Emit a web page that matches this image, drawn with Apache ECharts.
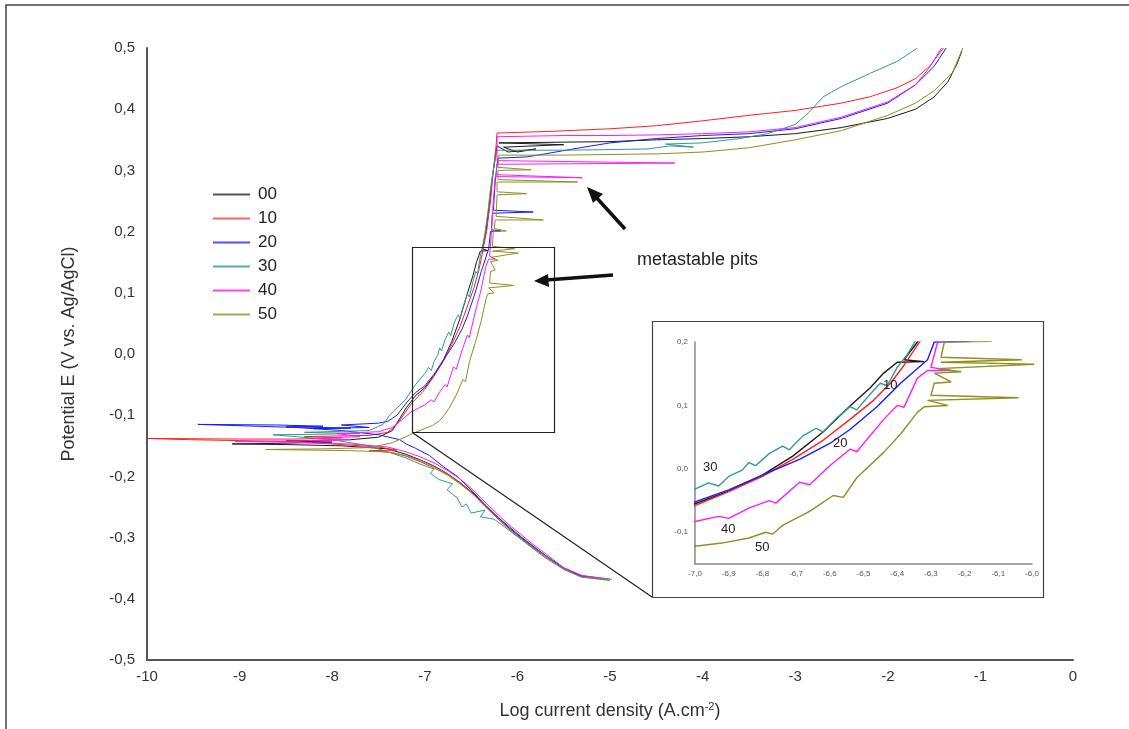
<!DOCTYPE html>
<html>
<head>
<meta charset="utf-8">
<script src="https://cdn.jsdelivr.net/npm/echarts@6/dist/echarts.min.js"></script>
<style>html,body{margin:0;padding:0;background:#fff}#c{width:1129px;height:729px}</style>
</head>
<body>
<div id="c"></div>
<script>
// ---- data: [log current density, potential E] ----
const seriesNames = ['00', '10', '20', '30', '40', '50'];
const xTicks = [-10, -9, -8, -7, -6, -5, -4, -3, -2, -1, 0];
const yTicks = [-0.5, -0.4, -0.3, -0.2, -0.1, 0, 0.1, 0.2, 0.3, 0.4, 0.5];

const s00 = [[-5.05,-0.368],[-5.32,-0.362],[-5.5,-0.350],[-5.68,-0.331],[-5.85,-0.313],[-5.97,-0.299],[-6.1,-0.283],[-6.22,-0.266],[-6.35,-0.247],[-6.48,-0.227],[-6.62,-0.210],[-6.76,-0.195],[-6.9,-0.183],[-7.05,-0.173],[-7.2,-0.164],[-7.4,-0.155],
[-7.9,-0.150],[-8.5,-0.148],[-9.08,-0.147],[-8.6,-0.146],[-8.0,-0.144],[-8.5,-0.142],[-7.8,-0.140],[-7.5,-0.136],
[-7.35,-0.125],[-7.2,-0.088],[-7.1,-0.068],[-7.0,-0.055],[-6.9,-0.035],[-6.8,-0.010],[-6.71,0.020],[-6.62,0.058],[-6.54,0.099],[-6.48,0.128],[-6.44,0.151],[-6.40,0.168],[-6.32,0.169],[-6.38,0.172],[-6.34,0.200],[-6.30,0.25],[-6.27,0.29],[-6.24,0.32],[-6.22,0.34],
[-6.1,0.330],[-5.8,0.335],[-6.0,0.330],[-6.15,0.338],[-5.5,0.342],[-6.2,0.345],
[-5.0,0.347],[-4.5,0.350],[-4.0,0.352],[-3.5,0.355],[-3.0,0.360],[-2.5,0.370],[-2.0,0.385],[-1.7,0.400],[-1.5,0.420],[-1.35,0.445],[-1.25,0.475],[-1.2,0.495]];

const s10 = [[-5.05,-0.368],[-5.32,-0.363],[-5.5,-0.351],[-5.68,-0.333],[-5.85,-0.315],[-5.97,-0.301],[-6.1,-0.285],[-6.22,-0.268],[-6.35,-0.249],[-6.48,-0.229],[-6.62,-0.212],[-6.76,-0.197],[-6.9,-0.186],[-7.05,-0.176],[-7.2,-0.167],[-7.35,-0.161],[-7.6,-0.158],[-7.3,-0.157],
[-7.5,-0.152],[-8.0,-0.147],[-8.5,-0.143],[-9.54,-0.140],[-10.0,-0.138],[-9.0,-0.139],[-8.4,-0.139],[-7.9,-0.137],[-8.3,-0.135],[-7.6,-0.133],[-7.4,-0.128],
[-7.3,-0.115],[-7.15,-0.082],[-7.0,-0.058],[-6.9,-0.036],[-6.8,-0.012],[-6.71,0.015],[-6.62,0.045],[-6.54,0.078],[-6.47,0.108],[-6.42,0.135],[-6.38,0.163],[-6.33,0.203],[-6.29,0.25],[-6.26,0.30],[-6.23,0.34],[-6.22,0.361],
[-5.6,0.364],[-5.0,0.368],[-4.5,0.373],[-4.0,0.381],[-3.5,0.390],[-3.0,0.398],[-2.5,0.410],[-2.2,0.420],[-1.9,0.435],[-1.7,0.450],[-1.55,0.470],[-1.4,0.500]];

const s20 = [[-5.02,-0.368],[-5.3,-0.363],[-5.5,-0.350],[-5.7,-0.329],[-5.95,-0.300],[-6.2,-0.268],[-6.35,-0.246],[-6.5,-0.222],[-6.65,-0.200],[-6.8,-0.184],[-6.95,-0.166],[-7.1,-0.154],[-7.2,-0.147],[-7.27,-0.140],
[-7.5,-0.132],[-7.9,-0.125],[-8.4,-0.120],[-9.45,-0.115],[-8.6,-0.116],[-8.1,-0.118],[-8.5,-0.119],[-7.8,-0.121],[-8.2,-0.122],[-7.6,-0.120],[-7.9,-0.116],[-7.5,-0.113],[-7.4,-0.110],
[-7.3,-0.100],[-7.2,-0.080],[-7.1,-0.063],[-7.0,-0.052],[-6.9,-0.033],[-6.8,-0.010],[-6.69,0.015],[-6.6,0.040],[-6.54,0.062],[-6.46,0.098],[-6.39,0.135],[-6.31,0.172],[-6.29,0.200],[-6.18,0.201],[-6.28,0.203],[-6.27,0.230],[-5.83,0.232],[-6.26,0.235],[-6.24,0.280],[-6.22,0.310],[-6.21,0.320],
[-5.9,0.322],[-5.7,0.327],[-5.4,0.335],[-5.0,0.345],[-4.5,0.352],[-4.0,0.357],[-3.5,0.360],[-3.0,0.368],[-2.5,0.385],[-2.0,0.410],[-1.7,0.440],[-1.5,0.470],[-1.37,0.500]];

const s30 = [[-5.0,-0.370],[-5.3,-0.365],[-5.5,-0.352],[-5.7,-0.333],[-5.9,-0.310],[-6.1,-0.287],[-6.25,-0.270],[-6.4,-0.266],[-6.35,-0.255],[-6.5,-0.260],[-6.55,-0.245],[-6.6,-0.250],[-6.65,-0.235],[-6.76,-0.222],[-6.7,-0.212],[-6.85,-0.205],[-6.94,-0.195],[-6.9,-0.188],[-7.05,-0.180],[-7.2,-0.170],[-7.4,-0.160],
[-7.6,-0.150],[-8.0,-0.140],[-8.64,-0.132],[-8.1,-0.131],[-7.7,-0.130],[-8.3,-0.128],[-7.6,-0.125],[-7.45,-0.115],
[-7.38,-0.100],[-7.3,-0.088],[-7.21,-0.075],[-7.1,-0.050],[-7.0,-0.032],[-6.96,-0.022],[-6.93,-0.027],[-6.90,-0.012],[-6.86,-0.002],[-6.84,0.010],[-6.82,0.005],[-6.78,0.024],[-6.74,0.036],[-6.72,0.030],[-6.68,0.052],[-6.64,0.064],[-6.62,0.058],[-6.58,0.080],[-6.54,0.098],[-6.52,0.093],[-6.48,0.118],[-6.45,0.135],[-6.43,0.131],[-6.40,0.160],[-6.37,0.180],[-6.35,0.198],[-6.32,0.230],[-6.29,0.270],[-6.26,0.300],[-6.23,0.325],[-6.22,0.333],
[-5.5,0.333],[-5.0,0.334],[-4.6,0.335],[-4.35,0.340],[-4.1,0.338],[-4.4,0.343],[-4.0,0.345],[-3.6,0.352],[-3.3,0.360],[-3.0,0.375],[-2.85,0.395],[-2.7,0.420],[-2.5,0.437],[-2.2,0.458],[-1.9,0.478],[-1.68,0.500]];

const s40 = [[-4.98,-0.368],[-5.3,-0.362],[-5.5,-0.349],[-5.68,-0.328],[-5.85,-0.309],[-5.97,-0.294],[-6.1,-0.278],[-6.22,-0.261],[-6.35,-0.242],[-6.48,-0.222],[-6.62,-0.204],[-6.76,-0.190],[-6.9,-0.178],[-7.05,-0.168],[-7.2,-0.160],[-7.4,-0.152],
[-7.8,-0.147],[-8.5,-0.144],[-9.05,-0.143],[-8.4,-0.142],[-7.8,-0.140],[-8.2,-0.138],[-7.7,-0.135],[-7.95,-0.130],[-7.5,-0.127],[-7.35,-0.120],
[-7.25,-0.108],[-7.15,-0.095],[-7.0,-0.083],[-6.93,-0.075],[-6.9,-0.078],[-6.84,-0.062],[-6.78,-0.050],[-6.76,-0.054],[-6.69,-0.021],[-6.66,-0.025],[-6.60,0.005],[-6.54,0.031],[-6.52,0.027],[-6.44,0.078],[-6.40,0.100],[-6.38,0.097],[-6.34,0.143],[-6.31,0.155],[-6.24,0.155],[-6.30,0.160],[-6.28,0.200],[-6.26,0.250],[-6.24,0.290],[-5.30,0.288],[-6.23,0.293],[-6.22,0.310],[-4.30,0.312],[-6.22,0.316],[-6.22,0.355],
[-5.5,0.357],[-5.0,0.357],[-4.5,0.358],[-4.0,0.360],[-3.5,0.363],[-3.0,0.370],[-2.5,0.387],[-2.0,0.412],[-1.7,0.440],[-1.55,0.468],[-1.42,0.500]];

const s50 = [[-5.0,-0.368],[-5.32,-0.364],[-5.5,-0.351],[-5.68,-0.332],[-5.85,-0.314],[-5.97,-0.300],[-6.1,-0.284],[-6.22,-0.267],[-6.35,-0.248],[-6.48,-0.228],[-6.62,-0.211],[-6.76,-0.196],[-6.9,-0.184],[-7.05,-0.174],[-7.2,-0.166],[-7.4,-0.160],
[-7.8,-0.158],[-8.72,-0.156],[-8.1,-0.155],[-7.6,-0.153],[-7.35,-0.145],[-7.2,-0.135],[-7.1,-0.128],
[-7.0,-0.122],[-6.92,-0.117],[-6.84,-0.109],[-6.79,-0.100],[-6.77,-0.103],[-6.74,-0.089],[-6.66,-0.067],[-6.59,-0.042],[-6.56,-0.045],[-6.52,-0.014],[-6.44,0.026],[-6.39,0.055],[-6.34,0.089],[-6.32,0.098],[-6.25,0.100],[-6.31,0.108],[-6.04,0.112],[-6.30,0.116],[-6.29,0.135],[-6.24,0.137],[-6.29,0.151],[-6.21,0.153],[-6.28,0.158],[-5.99,0.165],[-6.27,0.168],[-6.03,0.172],[-6.27,0.176],[-6.26,0.200],[-6.12,0.201],[-6.25,0.205],[-6.24,0.219],[-5.72,0.219],[-6.23,0.225],[-6.22,0.260],[-5.9,0.262],[-6.22,0.265],[-6.22,0.281],[-5.35,0.281],[-6.21,0.285],[-6.21,0.300],[-5.85,0.301],[-6.21,0.305],[-6.20,0.325],
[-5.5,0.325],[-5.0,0.326],[-4.5,0.327],[-4.0,0.330],[-3.5,0.337],[-3.0,0.350],[-2.5,0.365],[-2.0,0.390],[-1.7,0.410],[-1.5,0.430],[-1.3,0.460],[-1.19,0.500]];

const allData = [s00, s10, s20, s30, s40, s50];
const colors = ['#1a1a1a', '#ff2020', '#1a1aff', '#2f9a94', '#ff1aff', '#8f8f22'];
const legendColors = ['#555555', '#ff6060', '#5050ff', '#5aaaa6', '#ff40ff', '#a6a65a'];

// ---- chart ----
const chart = echarts.init(document.getElementById('c'), null, {renderer: 'canvas'});
const fmt = v => (Math.abs(v) < 1e-9 ? 0 : v).toFixed(1).replace('.', ',');
const font = '"Liberation Sans", Arial, sans-serif';

const series = [];
allData.forEach((d, i) => {
  series.push({
    type: 'line', name: seriesNames[i], data: d, xAxisIndex: 0, yAxisIndex: 0,
    showSymbol: false, symbol: 'none', color: colors[i], lineStyle: {width: 1, color: colors[i]},
    clip: true, animation: false, silent: true
  });
});
allData.forEach((d, i) => {
  series.push({
    type: 'line', name: seriesNames[i] + ' ', data: d, xAxisIndex: 1, yAxisIndex: 1,
    showSymbol: false, symbol: 'none', color: colors[i], lineStyle: {width: 1.4, color: colors[i]},
    clip: true, animation: false, silent: true
  });
});

const option = {
  backgroundColor: '#fff',
  animation: false,
  textStyle: {fontFamily: font},
  legend: {
    data: seriesNames.map((n, i) => ({name: n, itemStyle: {color: legendColors[i]}})),
    orient: 'vertical', left: 208, top: 181, itemWidth: 37, itemHeight: 2, itemGap: 7,
    icon: 'rect', selectedMode: false,
    textStyle: {fontSize: 17, color: '#222', fontFamily: font, lineHeight: 16, padding: [0, 0, 0, 3]}
  },
  grid: [
    {left: 147, right: 56, top: 48, bottom: 69, containLabel: false},
    {left: 695, top: 342, width: 337, height: 222, containLabel: false}
  ],
  xAxis: [
    {type: 'value', min: xTicks[0], max: xTicks[xTicks.length - 1], interval: 1, gridIndex: 0,
     axisLine: {onZero: false, lineStyle: {color: '#555', width: 2}}, axisTick: {show: false}, splitLine: {show: false},
     axisLabel: {fontSize: 15, color: '#333', margin: 9, fontFamily: font},
     name: 'Log current density (A.cm{sup|-2})', nameLocation: 'middle', nameGap: 41,
     nameTextStyle: {fontSize: 18, color: '#333', fontFamily: font,
       rich: {sup: {fontSize: 11, color: '#333', verticalAlign: 'top', padding: [0, 0, 10, 0], fontFamily: font}}}},
    {type: 'value', min: -7, max: -6, interval: 0.1, gridIndex: 1,
     axisLine: {onZero: false, lineStyle: {color: '#888', width: 1.5}}, axisTick: {show: false}, splitLine: {show: false},
     axisLabel: {fontSize: 8, color: '#555', margin: 6, formatter: fmt, fontFamily: font}}
  ],
  yAxis: [
    {type: 'value', min: yTicks[0], max: yTicks[yTicks.length - 1], interval: 0.1, gridIndex: 0,
     axisLine: {onZero: false, lineStyle: {color: '#555', width: 2}}, axisTick: {show: false}, splitLine: {show: false},
     axisLabel: {fontSize: 15, color: '#333', margin: 12, formatter: fmt, fontFamily: font},
     name: 'Potential E (V vs. Ag/AgCl)', nameLocation: 'middle', nameGap: 69, nameRotate: 90,
     nameTextStyle: {fontSize: 18, color: '#333', fontFamily: font}},
    {type: 'value', min: -0.15, max: 0.2, interval: 0.05, gridIndex: 1,
     axisLine: {onZero: false, lineStyle: {color: '#888', width: 1.5}}, axisTick: {show: false}, splitLine: {show: false},
     axisLabel: {fontSize: 8, color: '#555', margin: 7, fontFamily: font,
       formatter: v => (Math.round(v * 20) % 2 === 0 ? fmt(v) : '')}}
  ],
  series: series,
  graphic: [
    {type: 'rect', shape: {x: 6, y: 5, width: 1200, height: 800}, style: {fill: 'none', stroke: '#444', lineWidth: 1.5}, z: 0, silent: true},
    {type: 'rect', shape: {x: 412.5, y: 247.5, width: 142, height: 185}, style: {fill: 'none', stroke: '#222', lineWidth: 1.2}, z: 10, silent: true},
    {type: 'line', shape: {x1: 413, y1: 433, x2: 652, y2: 597}, style: {stroke: '#222', lineWidth: 1.2}, z: 10, silent: true},
    {type: 'rect', shape: {x: 652.5, y: 321.5, width: 391, height: 276}, style: {fill: '#fff', stroke: '#444', lineWidth: 1.2}, z: -1, silent: true},
    {type: 'line', shape: {x1: 625, y1: 229, x2: 595, y2: 196}, style: {stroke: '#111', lineWidth: 3.5}, z: 10, silent: true},
    {type: 'polygon', shape: {points: [[587, 187], [603, 194], [593, 203]]}, style: {fill: '#111'}, z: 10, silent: true},
    {type: 'line', shape: {x1: 613, y1: 275, x2: 546, y2: 280}, style: {stroke: '#111', lineWidth: 3.5}, z: 10, silent: true},
    {type: 'polygon', shape: {points: [[534, 281], [548, 274], [549, 287]]}, style: {fill: '#111'}, z: 10, silent: true},
    {type: 'text', left: 637, top: 251, style: {text: 'metastable pits', fontSize: 18, fill: '#222', fontFamily: font}, z: 10, silent: true},
    {type: 'text', left: 703, top: 461, style: {text: '30', fontSize: 13, fill: '#222', fontFamily: font}, z: 10, silent: true},
    {type: 'text', left: 883, top: 379, style: {text: '10', fontSize: 13, fill: '#222', fontFamily: font}, z: 10, silent: true},
    {type: 'text', left: 833, top: 437, style: {text: '20', fontSize: 13, fill: '#222', fontFamily: font}, z: 10, silent: true},
    {type: 'text', left: 721, top: 523, style: {text: '40', fontSize: 13, fill: '#222', fontFamily: font}, z: 10, silent: true},
    {type: 'text', left: 755, top: 541, style: {text: '50', fontSize: 13, fill: '#222', fontFamily: font}, z: 10, silent: true}
  ]
};
chart.setOption(option);
</script>
</body>
</html>
